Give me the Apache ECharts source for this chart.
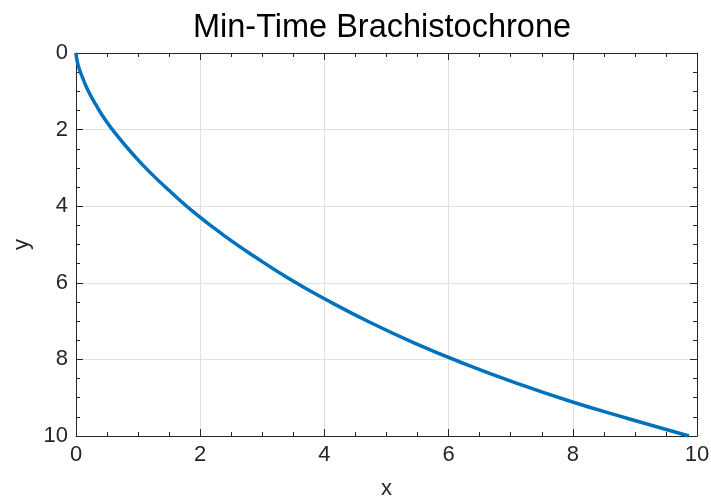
<!DOCTYPE html>
<html>
<head>
<meta charset="utf-8">
<script src="https://cdn.jsdelivr.net/npm/echarts@6/dist/echarts.min.js"></script>
<style>
  html, body { margin: 0; padding: 0; background: #fff; }
  #chart { width: 711px; height: 497px; }
</style>
</head>
<body>
<div id="chart"></div>
<script>
// 读图得到的曲线点
var xVals = [0, 0.001, 0.008, 0.026, 0.06, 0.12, 0.2, 0.32, 0.47, 0.67, 0.91, 1.2, 1.54, 1.93, 2.38, 2.88, 3.44, 4.06, 4.73, 5.46, 6.25, 7.09, 7.97, 8.9, 9.87];
var yVals = [0, 0.03, 0.11, 0.26, 0.45, 0.70, 1.0, 1.35, 1.74, 2.17, 2.63, 3.13, 3.65, 4.2, 4.76, 5.32, 5.9, 6.47, 7.03, 7.58, 8.11, 8.62, 9.1, 9.55, 10];
var xTicks = [0, 2, 4, 6, 8, 10];
var yTicks = [0, 2, 4, 6, 8, 10];

var axisColor = '#262626';
var font = 'Liberation Sans, Arial, sans-serif';

function setOption(chart) {
    var pts = xVals.map(function (x, i) { return [x, yVals[i]]; });

    // 主轴公共样式
    function mainAxis(extra, ticks) {
        var ax = {
            type: 'value',
            min: ticks[0],
            max: ticks[ticks.length - 1],
            interval: 2,
            axisLine: { show: true, onZero: false, lineStyle: { color: axisColor, width: 1 } },
            axisTick: { show: true, inside: true, length: 7, lineStyle: { color: axisColor } },
            minorTick: { show: true, splitNumber: 4, length: 4, lineStyle: { color: axisColor } },
            splitLine: { show: true, lineStyle: { color: '#e0e0e0', width: 1 } },
            axisLabel: { color: axisColor, fontSize: 22, fontFamily: font, margin: 8 },
            nameTextStyle: { color: axisColor, fontSize: 22, fontFamily: font }
        };
        for (var k in extra) ax[k] = extra[k];
        return ax;
    }
    // 镜像轴（上、右）
    function mirrorAxis(extra, ticks) {
        var ax = mainAxis(extra, ticks);
        ax.axisLabel = { show: false };
        ax.splitLine = { show: false };
        ax.name = '';
        return ax;
    }

    var option = {
        backgroundColor: '#ffffff',
        animation: false,
        title: {
            text: 'Min-Time Brachistochrone',
            left: 377,
            top: 7,
            textAlign: 'center',
            textStyle: { color: '#000', fontSize: 32.5, fontWeight: 'normal', fontFamily: font }
        },
        grid: { left: 76, right: 14, top: 53, bottom: 61, containLabel: false, outerBoundsMode: 'none' },
        xAxis: [
            mainAxis({ position: 'bottom', name: 'x', nameLocation: 'middle', nameGap: 42 }, xTicks),
            mirrorAxis({ position: 'top' }, xTicks)
        ],
        yAxis: [
            mainAxis({ position: 'left', inverse: true, name: 'y', nameLocation: 'middle', nameGap: 42 }, yTicks),
            mirrorAxis({ position: 'right', inverse: true }, yTicks)
        ],
        series: [{
            type: 'line',
            data: pts,
            xAxisIndex: 0,
            yAxisIndex: 0,
            showSymbol: false,
            smooth: true,
            lineStyle: { color: '#0072BD', width: 3.5 },
            z: 5
        }]
    };
    chart.setOption(option);
}

var chart = echarts.init(document.getElementById('chart'), null, { renderer: 'canvas' });
setOption(chart);
</script>
</body>
</html>
